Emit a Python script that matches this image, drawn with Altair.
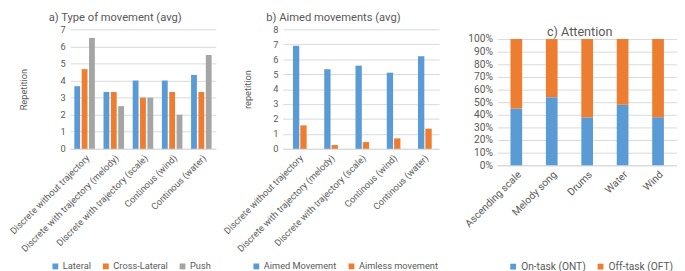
import altair as alt
import pandas as pd

FONT = "Roboto"
GREY_TXT = "#595959"
BLUE, ORANGE, GREY = "#5B9BD5", "#ED7D31", "#A5A5A5"

# ---- panel a data ----
cats_a = ["Discrete without trajectory", "Discrete with trajectory (melody)",
          "Discrete with trajectory (scale)", "Continous (wind)", "Continous (water)"]
series_a = ["Lateral", "Cross-Lateral", "Push"]
lateral = [3.67, 3.33, 4.0, 4.0, 4.33]
cross_lateral = [4.67, 3.33, 3.0, 3.33, 3.33]
push = [6.5, 2.5, 3.0, 2.0, 5.5]

# ---- panel b data ----
series_b = ["Aimed Movement", "Aimless movement"]
aimed = [6.9, 5.33, 5.57, 5.1, 6.2]
aimless = [1.57, 0.25, 0.45, 0.7, 1.35]

# ---- panel c data ----
cats_c = ["Ascending scale", "Melody song", "Drums", "Water", "Wind"]
series_c = ["On-task (ONT)", "Off-task (OFT)"]
on_task = [45, 54, 38, 48, 38]
off_task = [55, 46, 62, 52, 62]

rows_a = []
for s, vals in zip(series_a, [lateral, cross_lateral, push]):
    for c, v in zip(cats_a, vals):
        rows_a.append({"cat": c, "series": s, "value": v})
df_a = pd.DataFrame(rows_a)

rows_b = []
for s, vals in zip(series_b, [aimed, aimless]):
    for c, v in zip(cats_a, vals):
        rows_b.append({"cat": c, "series": s, "value": v})
df_b = pd.DataFrame(rows_b)

rows_c = []
for k, (s, vals) in enumerate(zip(series_c, [on_task, off_task])):
    for c, v in zip(cats_c, vals):
        rows_c.append({"cat": c, "series": s, "value": v, "ord": k})
df_c = pd.DataFrame(rows_c)


def xaxis(fs=9.5):
    return alt.Axis(title=None, labelAngle=-45, labelFontSize=fs, labelColor=GREY_TXT,
                    labelFont=FONT, ticks=False, domainColor="#D9D9D9", grid=False,
                    labelPadding=4, labelLimit=300)


def legend(x, y, fs=9.5):
    return alt.Legend(title=None, orient="none", legendX=x, legendY=y, direction="horizontal",
                      symbolType="square", symbolSize=36, symbolStrokeWidth=0,
                      labelFontSize=fs, labelColor=GREY_TXT, labelFont=FONT,
                      columnPadding=10, labelOffset=3, padding=0)


def yaxis(values, title, tpad, fs=9.5, fmt=None):
    kw = dict(values=values, labelFontSize=fs, labelColor=GREY_TXT, labelFont=FONT,
              ticks=False, domain=False, gridColor="#D9D9D9", labelPadding=5)
    if title:
        kw.update(title=title, titlePadding=tpad, titleFontWeight="normal", titleFontSize=9.5,
                  titleColor=GREY_TXT, titleFont=FONT)
    else:
        kw.update(title=None)
    if fmt:
        kw.update(format=fmt)
    return alt.Axis(**kw)


chart_a = alt.Chart(df_a).mark_bar(size=6).encode(
    x=alt.X("cat:N", sort=cats_a, scale=alt.Scale(paddingInner=0.37, paddingOuter=0.18), axis=xaxis()),
    xOffset=alt.XOffset("series:N", sort=series_a,
                        scale=alt.Scale(paddingInner=0, paddingOuter=0)),
    y=alt.Y("value:Q", scale=alt.Scale(domain=[0, 7], nice=False),
            axis=yaxis(list(range(8)), "Repetition", 33)),
    color=alt.Color("series:N", sort=series_a,
                    scale=alt.Scale(domain=series_a, range=[BLUE, ORANGE, GREY]),
                    legend=legend(-20, 239)),
).properties(width=150, height=123,
             title=alt.TitleParams("a) Type of movement (avg)", anchor="start", frame="group",
                                   dx=-22, fontSize=11.5, fontWeight="normal", color=GREY_TXT,
                                   font=FONT, offset=1))

chart_b = alt.Chart(df_b).mark_bar(size=6.5).encode(
    x=alt.X("cat:N", sort=cats_a, scale=alt.Scale(paddingInner=0.5, paddingOuter=0.25), axis=xaxis()),
    xOffset=alt.XOffset("series:N", sort=series_b,
                        scale=alt.Scale(paddingInner=0, paddingOuter=0)),
    y=alt.Y("value:Q", scale=alt.Scale(domain=[0, 8], nice=False),
            axis=yaxis(list(range(9)), "repetition", 21)),
    color=alt.Color("series:N", sort=series_b,
                    scale=alt.Scale(domain=series_b, range=[BLUE, ORANGE]),
                    legend=legend(-32, 239)),
).properties(width=161, height=123,
             title=alt.TitleParams("b) Aimed movements (avg)", anchor="start", frame="group",
                                   dx=-17, fontSize=11.5, fontWeight="normal", color=GREY_TXT,
                                   font=FONT, offset=1))

# c: plot area starts at the same top as a/b; 100% sits lower, so the domain reaches above 1
chart_c = alt.Chart(df_c).mark_bar().encode(
    x=alt.X("cat:N", sort=cats_c, scale=alt.Scale(paddingInner=0.67, paddingOuter=0.37), axis=xaxis(10.5)),
    y=alt.Y("value:Q", stack="normalize", scale=alt.Scale(domain=[0, 1.077], nice=False),
            axis=yaxis([i / 10 for i in range(11)], None, 0, fs=10.5, fmt=".0%")),
    color=alt.Color("series:N", sort=series_c,
                    scale=alt.Scale(domain=series_c, range=[BLUE, ORANGE]),
                    legend=legend(11, 239, 10.5)),
    order=alt.Order("ord:Q"),
).properties(width=185, height=140,
             title=alt.TitleParams("c) Attention", anchor="start", frame="group",
                                   dx=51, fontSize=13, fontWeight="normal", color=GREY_TXT,
                                   font=FONT, offset=-10))

left = alt.hconcat(chart_a, chart_b, spacing=6).resolve_scale(color="independent")
chart = alt.hconcat(left, chart_c, spacing=24).resolve_scale(color="independent").properties(
    padding={"left": 0, "top": 0, "right": 0, "bottom": 0}
).configure_view(strokeWidth=0)

chart.save("out.html", embed_options={"renderer": "svg", "actions": False})
